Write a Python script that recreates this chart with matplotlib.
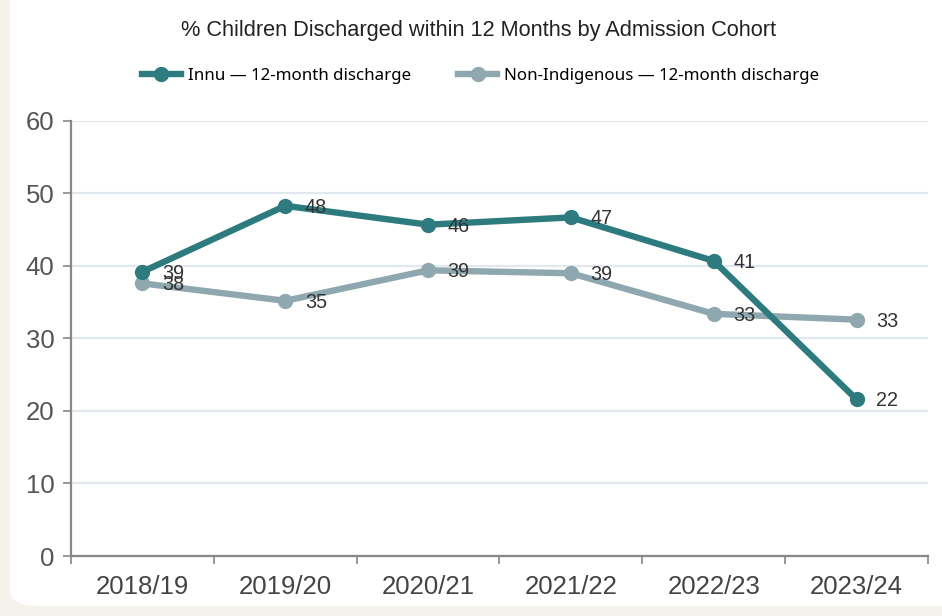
import matplotlib
matplotlib.use("Agg")
import matplotlib.pyplot as plt
import numpy as np
from matplotlib.patches import FancyBboxPatch

cohorts = ["2018/19", "2019/20", "2020/21", "2021/22", "2022/23", "2023/24"]
innu = [39.2, 48.3, 45.7, 46.7, 40.7, 21.6]
non_indigenous = [37.6, 35.2, 39.4, 39.0, 33.4, 32.6]
innu_labels = ["39", "48", "46", "47", "41", "22"]
non_ind_labels = ["38", "35", "39", "39", "33", "33"]

plt.rcParams['font.family'] = ['Liberation Sans', 'DejaVu Sans']

fig = plt.figure(figsize=(9.42, 6.16), dpi=100, facecolor="#F5F2EC")
card = FancyBboxPatch((0.010, 0.016), 1.2, 1.2, boxstyle="round,pad=0,rounding_size=0.03",
                      transform=fig.transFigure, facecolor="white", edgecolor="none", zorder=-10)
fig.patches.append(card)

ax = fig.add_axes([0.0754, 0.0974, 0.9097, 0.7062])
ax.set_facecolor("none")

x = np.arange(len(cohorts))
teal = "#2E7B7F"
grey = "#8FA7AF"
ax.plot(x, innu, color=teal, lw=4.6, marker="o", ms=10, zorder=4,
        label="Innu \u2014 12-month discharge")
ax.plot(x, non_indigenous, color=grey, lw=4.6, marker="o", ms=10, zorder=3,
        label="Non-Indigenous \u2014 12-month discharge")

for xi, v, t in zip(x, innu, innu_labels):
    ax.annotate(t, (xi, v), xytext=(14, -1), textcoords="offset points",
                va="center", ha="left", fontsize=14.2, color="#333333", zorder=6)
for xi, v, t in zip(x, non_indigenous, non_ind_labels):
    ax.annotate(t, (xi, v), xytext=(14, -1), textcoords="offset points",
                va="center", ha="left", fontsize=14.2, color="#333333", zorder=6)

ax.set_xlim(-0.5, len(cohorts) - 0.5)
ax.set_ylim(0, 60)
ax.set_yticks(range(0, 61, 10))
ax.set_xticks(x)
ax.set_xticklabels(cohorts)
ax.set_xticks(np.arange(-0.5, len(cohorts)), minor=True)
ax.tick_params(axis="x", which="major", length=0, labelsize=18.5, labelcolor="#444444", pad=14)
ax.tick_params(axis="x", which="minor", length=6, width=1.2, color="#888888")
ax.tick_params(axis="y", length=6, width=1.2, color="#888888", labelsize=18.5,
               labelcolor="#555555", pad=6)

ax.grid(axis="y", color="#E2E7F0", lw=1.6, zorder=0)
ax.set_axisbelow(True)
for s in ["top", "right"]:
    ax.spines[s].set_visible(False)
for s in ["left", "bottom"]:
    ax.spines[s].set_color("#888888")
    ax.spines[s].set_linewidth(1.6)

fig.text(0.508, 0.950, "% Children Discharged within 12 Months by Admission Cohort",
         ha="center", va="center", fontsize=15.7, color="#222222")

fig.legend(loc="center", bbox_to_anchor=(0.51, 0.876), ncol=2, frameon=False,
           prop={"family": "Noto Sans", "size": 12.2}, handlelength=2.3,
           columnspacing=2.8, handletextpad=0.4)

fig.savefig("out.png", dpi=100, facecolor=fig.get_facecolor())
